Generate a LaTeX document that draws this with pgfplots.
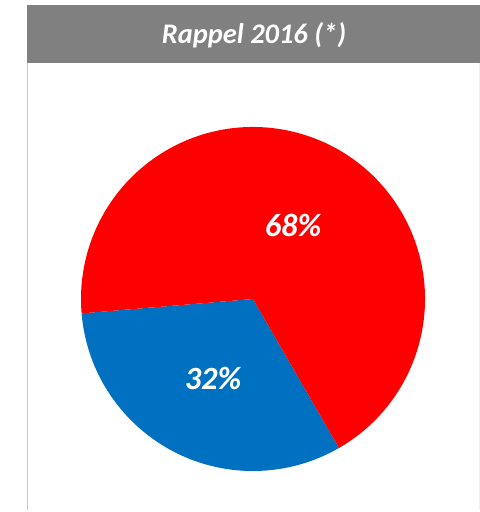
\documentclass[border=0pt]{standalone}
\usepackage{pgfplots}
\pgfplotsset{compat=1.18}
\usepackage{pgfplotstable}
\usepackage{fontspec}
\setmainfont{Carlito}
\definecolor{hdr}{HTML}{808080}
\definecolor{pred}{HTML}{FF0000}
\definecolor{pblue}{HTML}{0070C0}
\pgfplotstableread{
name share
Blue 32
Red 68
}\piedata
\begin{document}
\begin{tikzpicture}
\pgfplotstablegetelem{0}{share}\of\piedata \let\sB\pgfplotsretval
\pgfplotstablegetelem{1}{share}\of\piedata \let\sR\pgfplotsretval
\pgfmathsetmacro\aA{184.8}
\pgfmathsetmacro\aB{\aA+3.6*\sB}
\pgfmathsetmacro\aC{\aB+3.6*\sR}
\begin{axis}[x=1bp,y=1bp,xmin=0,xmax=480,ymin=0,ymax=512,hide axis,clip=false]
\path (axis cs:0,0) rectangle (axis cs:480,512);
\fill[hdr] (axis cs:27,449) rectangle (axis cs:480,507);
\draw[black!22, line width=1.5bp] (axis cs:27.5,449) -- (axis cs:27.5,2);
\draw[black!6, line width=1bp] (axis cs:479.5,449) -- (axis cs:479.5,2);
\node[white, font=\fontsize{28.5}{30}\selectfont\bfseries\itshape] at (axis cs:254,477) {Rappel 2016 (*)};
\fill[pblue] (axis cs:253,213) -- (axis cs:{253+172*cos(\aA)},{213+172*sin(\aA)}) arc[start angle=\aA, end angle=\aB, radius=172bp] -- cycle;
\fill[pred] (axis cs:253,213) -- (axis cs:{253+172*cos(\aB)},{213+172*sin(\aB)}) arc[start angle=\aB, end angle=\aC, radius=172bp] -- cycle;
\node[white, font=\fontsize{32.5}{34}\selectfont\bfseries\itshape] at (axis cs:293,287) {\sR\%};
\node[white, font=\fontsize{32.5}{34}\selectfont\bfseries\itshape] at (axis cs:213,134) {\sB\%};
\end{axis}
\end{tikzpicture}
\end{document}
